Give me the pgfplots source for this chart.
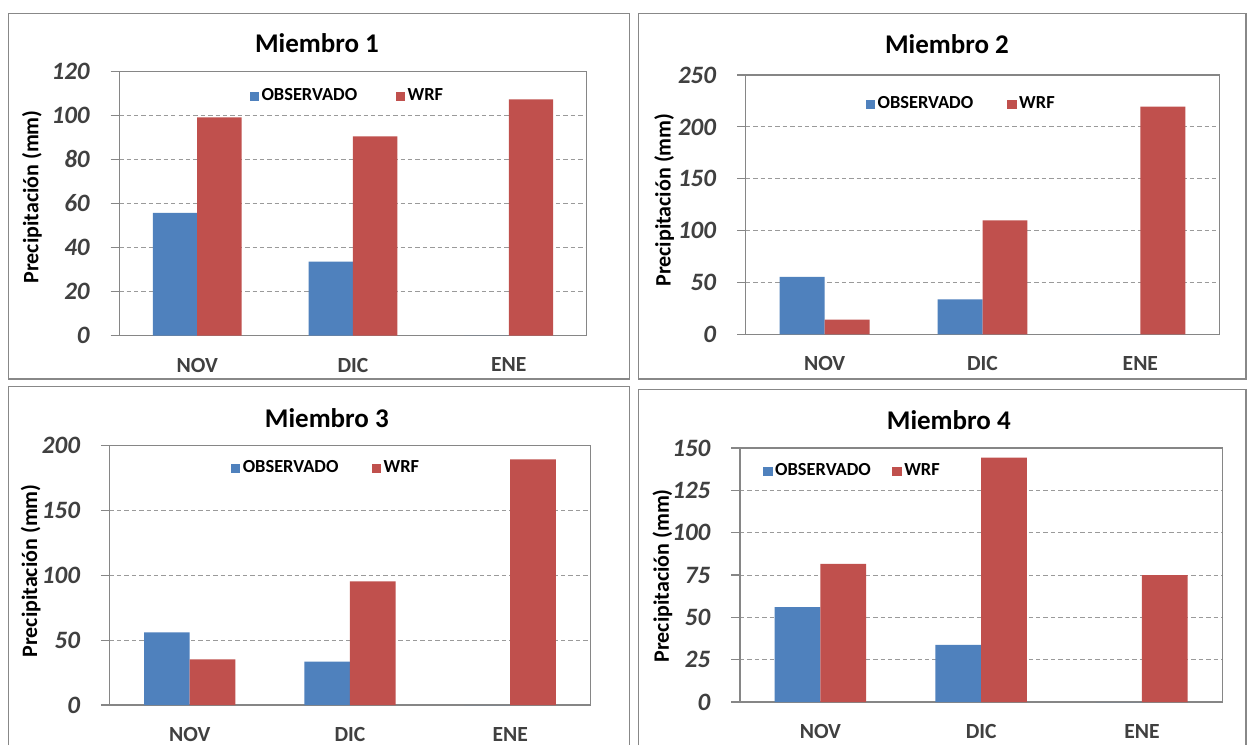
\documentclass[border=0pt]{standalone}
\usepackage{fontspec}
\setmainfont{Carlito}
\usepackage{pgfplots}
\pgfplotsset{compat=1.18}

\definecolor{obsblue}{HTML}{4F81BD}
\definecolor{wrfred}{HTML}{C0504D}
\definecolor{axisgray}{HTML}{868686}
\definecolor{gridgray}{HTML}{9A9A9A}
\definecolor{framegray}{HTML}{888888}
\definecolor{tickgray}{HTML}{404040}

\pgfplotsset{
  panel/.style={
    scale only axis,
    ybar, bar width=0.285,
    xmin=-0.5, xmax=2.5,
    xtick={0,1,2}, xticklabels={NOV,DIC,ENE},
    ymin=0,
    axis line style={draw=axisgray, line width=0.6pt},
    ymajorgrids,
    grid style={dash pattern=on 2.2pt off 1.5pt, gridgray, line width=0.5pt},
    xtick style={draw=none},
    ytick style={draw=axisgray, line width=0.6pt},
    ytick pos=left, tick align=outside, major tick length=4.3pt,
    /pgf/number format/assume math mode=true,
    yticklabel style={font=\fontsize{12.5}{13}\selectfont\bfseries\itshape, text=tickgray, xshift=-7pt},
    xticklabel style={font=\fontsize{10.8}{12}\selectfont\bfseries, text=tickgray, yshift=-3.3pt},
    ylabel={Precipitación (mm)},
    ylabel style={font=\fontsize{11}{12}\selectfont\bfseries, anchor=center},
    % yshift adds up, so this cancels the default 6pt title shift
    title style={font=\fontsize{13.5}{15}\selectfont\bfseries, anchor=center, yshift=-6pt},
    legend columns=2,
    legend style={draw=none, fill=none, inner sep=0pt, anchor=west,
      font=\fontsize{9.2}{10}\selectfont\bfseries,
      nodes={inner xsep=1.25pt, inner ysep=0pt}},
    legend image code/.code={\fill[##1] (0pt,-2.35pt) rectangle (4.7pt,2.35pt);},
  },
  obs/.style={fill=obsblue, draw=none, bar shift=-0.1425},
  wrf/.style={fill=wrfred, draw=none, bar shift=0.1425},
}

\begin{document}
\begin{tikzpicture}
\fill[white] (0,0) rectangle (624pt,372.5pt);
\path[use as bounding box] (0,0) rectangle (624pt,372.5pt);

% panel frames
\draw[framegray, line width=0.6pt] (4.15pt,183pt) rectangle (314.65pt,365.65pt);
\draw[framegray, line width=0.6pt] (319.35pt,183pt) rectangle (623pt,365.65pt);
\draw[framegray, line width=0.6pt] (4.15pt,0pt) |- (314.65pt,179.15pt) -- (314.65pt,0pt);
\draw[framegray, line width=0.6pt] (319.35pt,0pt) |- (623pt,177.85pt) -- (623pt,0pt);

% Miembro 1
\begin{axis}[panel,
  at={(59.65pt,204.65pt)}, anchor=south west,
  width=233.7pt, height=132.2pt,
  ymax=120, ytick={0,20,...,120},
  title={Miembro 1}, title style={at={(0.423,1.107)}},
  ylabel style={at={(-0.187,0.525)}},
  legend style={at={(0.278,0.905)}, /tikz/column 2/.style={column sep=18pt}},
]
\addplot[obs] coordinates {(0,55.7) (1,33.6) (2,0)};
\addplot[wrf] coordinates {(0,99.1) (1,90.5) (2,107.3)};
\legend{OBSERVADO,WRF}
\end{axis}

% Miembro 2
\begin{axis}[panel,
  at={(372.85pt,205.25pt)}, anchor=south west,
  width=236.8pt, height=129.75pt,
  ymax=250, ytick={0,50,...,250},
  title={Miembro 2}, title style={at={(0.425,1.119)}},
  ylabel style={at={(-0.172,0.518)}},
  legend style={at={(0.2525,0.887)}, /tikz/column 2/.style={column sep=15.8pt}},
]
\addplot[obs] coordinates {(0,55.4) (1,33.9) (2,0)};
\addplot[wrf] coordinates {(0,14.3) (1,110) (2,219.5)};
\legend{OBSERVADO,WRF}
\end{axis}

% Miembro 3
\begin{axis}[panel,
  at={(54.8pt,20pt)}, anchor=south west,
  width=240.35pt, height=129.65pt,
  ymax=200, ytick={0,50,...,200},
  title={Miembro 3}, title style={at={(0.452,1.107)}},
  ylabel style={at={(-0.164,0.517)}},
  legend style={at={(0.2515,0.913)}, /tikz/column 2/.style={column sep=15.4pt}},
]
\addplot[obs] coordinates {(0,56) (1,33.4) (2,0)};
\addplot[wrf] coordinates {(0,35.2) (1,95.4) (2,189.5)};
\legend{OBSERVADO,WRF}
\end{axis}

% Miembro 4
\begin{axis}[panel,
  at={(370pt,21.5pt)}, anchor=south west,
  width=241.15pt, height=127pt,
  ymax=150, ytick={0,25,...,150},
  title={Miembro 4}, title style={at={(0.433,1.110)}},
  ylabel style={at={(-0.161,0.497)}},
  legend style={at={(0.0475,0.908)}, /tikz/column 2/.style={column sep=9.5pt}},
]
\addplot[obs] coordinates {(0,56.1) (1,33.8) (2,0)};
\addplot[wrf] coordinates {(0,81.5) (1,144.3) (2,75)};
\legend{OBSERVADO,WRF}
\end{axis}
\end{tikzpicture}
\end{document}
